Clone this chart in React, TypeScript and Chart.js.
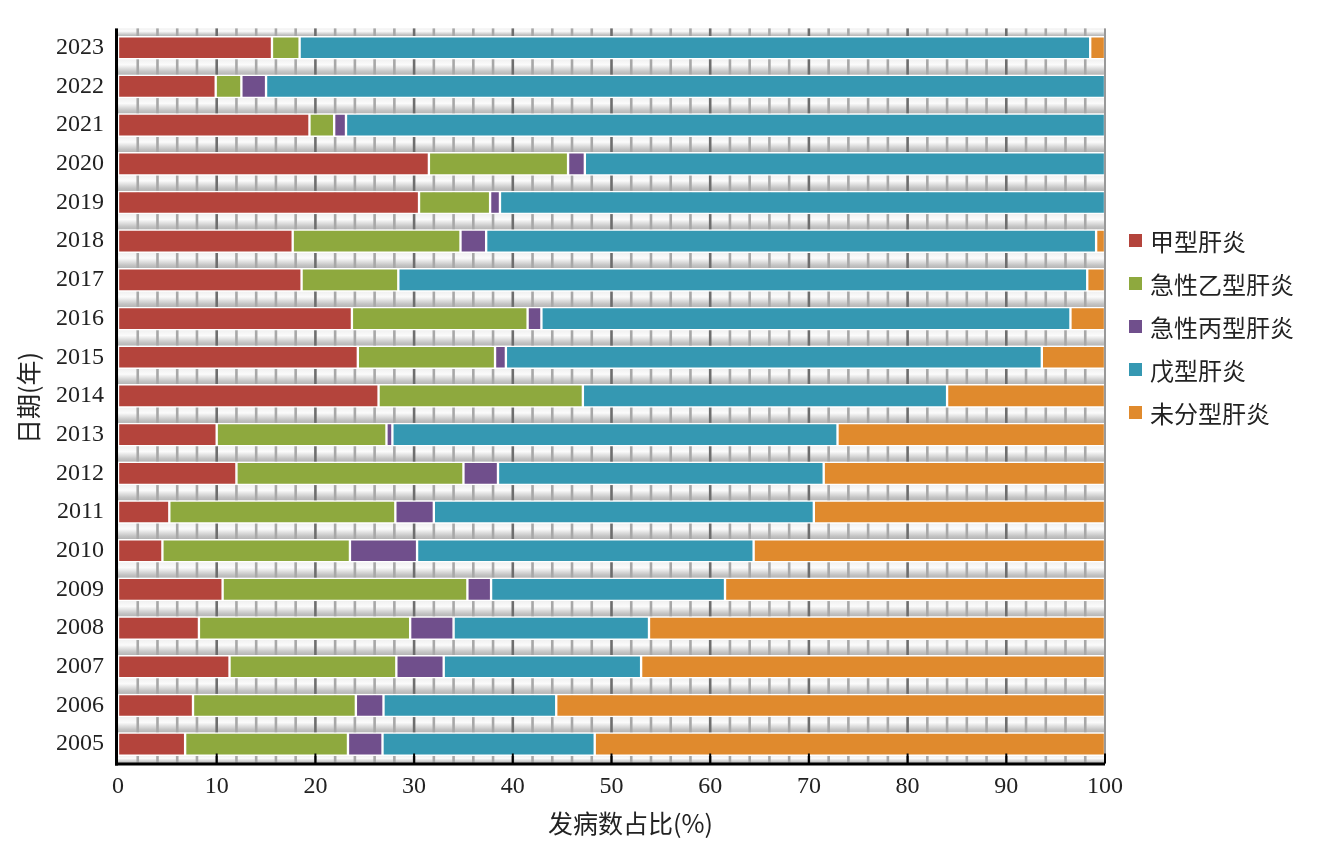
import React, { useEffect, useRef } from "react";
import { Chart, registerables } from "chart.js";

Chart.register(...registerables);

const YEARS = ["2005", "2006", "2007", "2008", "2009", "2010", "2011", "2012", "2013", "2014", "2015", "2016", "2017", "2018", "2019", "2020", "2021", "2022", "2023"];

const HEP_A = [6.8, 7.6, 11.3, 8.2, 10.6, 4.5, 5.2, 12.0, 10.0, 26.4, 24.3, 23.7, 18.6, 17.7, 30.5, 31.5, 19.4, 9.9, 15.6];
const HEP_B = [16.5, 16.5, 16.9, 21.4, 24.8, 19.0, 22.9, 23.0, 17.2, 20.7, 13.9, 17.8, 9.8, 17.0, 7.2, 14.1, 2.5, 2.6, 2.8];
const HEP_C = [3.5, 2.8, 4.8, 4.4, 2.4, 6.8, 3.9, 3.5, 0.6, 0, 1.1, 1.4, 0, 2.6, 1.0, 1.7, 1.2, 2.5, 0];
const HEP_E = [21.5, 17.5, 20.0, 19.8, 23.7, 34.1, 38.5, 33.0, 45.1, 36.9, 54.3, 53.6, 69.8, 61.8, 61.3, 52.7, 76.9, 85.0, 80.1];
const HEP_U = [51.7, 55.6, 47.0, 46.2, 38.5, 35.6, 29.5, 28.5, 27.1, 16.0, 6.4, 3.5, 1.8, 0.9, 0, 0, 0, 0, 1.5];

const SERIES_NAMES = ["甲型肝炎", "急性乙型肝炎", "急性丙型肝炎", "戊型肝炎", "未分型肝炎"];
const SERIES_COLORS = ["#B4443C", "#8EA93E", "#704F8C", "#3598B2", "#E08A2D"];
const X_TICKS_MAX = 100;
const X_TITLE = "发病数占比(%)";
const Y_TITLE = "日期(年)";

const FONT_FAMILY = "'Liberation Serif', 'Noto Sans CJK SC', serif";
const CJK_FONT = "'Noto Sans CJK SC', 'Liberation Serif', serif";
const BAR_THICK = 23;

const bgPlugin = {
  id: "bgStripes",
  beforeDatasetsDraw(chart: any) {
    const { ctx, chartArea: a, scales } = chart;
    const xs = scales.x;
    const ys = scales.y;
    const half = BAR_THICK / 2;
    const centers = YEARS.map((_, i) => ys.getPixelForValue(i)).sort((p: number, q: number) => p - q);
    ctx.save();
    const n = centers.length;
    for (let k = 0; k <= n; k++) {
      const top = k === 0 ? a.top : centers[k - 1] + half;
      const bot = k === n ? a.bottom : centers[k] - half;
      if (bot <= top) continue;
      const g = ctx.createLinearGradient(0, top, 0, bot);
      g.addColorStop(0, "#f0f0f0");
      g.addColorStop(0.35, "#fbfbfb");
      g.addColorStop(0.8, "#c4c4c4");
      g.addColorStop(1, "#b4b4b4");
      ctx.fillStyle = g;
      ctx.fillRect(a.left, top, a.right - a.left, bot - top);
    }
    for (let v = 2; v < 100; v += 2) {
      const px = xs.getPixelForValue(v);
      ctx.fillStyle = v % 10 === 0 ? "#6e6e6e" : "#a8a8a8";
      ctx.fillRect(px - 1.3, a.top, 2.6, a.bottom - a.top);
    }
    ctx.restore();
  },
  afterDatasetsDraw(chart: any) {
    const { ctx, chartArea: a, scales } = chart;
    const xs = scales.x;
    ctx.save();
    ctx.fillStyle = "#999999";
    ctx.fillRect(a.right - 1, a.top, 2, a.bottom - a.top);
    ctx.fillStyle = "#000000";
    for (let v = 10; v <= 100; v += 10) {
      const px = xs.getPixelForValue(v);
      ctx.fillRect(px - 1, a.bottom - 10, 2, 10);
    }
    ctx.fillRect(a.left - 3, a.top, 3, a.bottom - a.top + 2);
    ctx.fillRect(a.left - 3, a.bottom - 1, a.right - a.left + 3, 3);
    ctx.restore();
  },
  afterDraw(chart: any) {
    const { ctx, chartArea: a } = chart;
    ctx.save();
    ctx.fillStyle = "#222222";
    ctx.font = "25px " + CJK_FONT;
    ctx.textAlign = "center";
    ctx.textBaseline = "middle";
    ctx.fillText(X_TITLE, (a.left + a.right) / 2 + 19, 823);
    ctx.translate(28, (a.top + a.bottom) / 2 + 2);
    ctx.rotate(-Math.PI / 2);
    ctx.fillText(Y_TITLE, 0, 0);
    ctx.restore();
  },
};

export default function App() {
  const canvasRef = useRef<HTMLCanvasElement | null>(null);

  useEffect(() => {
    if (!canvasRef.current) return;
    const seriesData = [HEP_A, HEP_B, HEP_C, HEP_E, HEP_U];
    const chart = new Chart(canvasRef.current, {
      type: "bar",
      data: {
        labels: YEARS,
        datasets: SERIES_NAMES.map((name, i) => ({
          label: name,
          data: seriesData[i],
          backgroundColor: SERIES_COLORS[i],
          borderColor: "#ffffff",
          borderWidth: 1.5,
          borderSkipped: false,
          barThickness: BAR_THICK,
        })),
      },
      options: {
        indexAxis: "y",
        animation: false,
        responsive: true,
        maintainAspectRatio: false,
        layout: { padding: { top: 23.5, right: 216, left: 0, bottom: 0 } },
        plugins: {
          legend: { display: false },
          tooltip: { enabled: false },
        },
        scales: {
          x: {
            stacked: true,
            min: 0,
            max: X_TICKS_MAX,
            grid: { display: false, drawTicks: false },
            border: { display: false },
            ticks: {
              stepSize: 10,
              color: "#222222",
              padding: 9,
              maxRotation: 0,
              font: { family: FONT_FAMILY, size: 24 },
            },
            title: { display: false },
            afterFit(scale: any) {
              scale.height = 81.5;
            },
          },
          y: {
            stacked: true,
            reverse: true,
            grid: { display: false, drawTicks: false },
            border: { display: false },
            ticks: {
              color: "#222222",
              padding: 14,
              font: { family: FONT_FAMILY, size: 24 },
            },
            title: { display: false },
            afterFit(scale: any) {
              scale.width = 118;
            },
          },
        },
      },
      plugins: [bgPlugin],
    });
    return () => chart.destroy();
  }, []);

  return (
    <div style={{ position: "absolute", left: 0, top: 0, width: 1321, height: 845, background: "#ffffff" }}>
      <canvas ref={canvasRef} />
      <div style={{ position: "absolute", left: 1129, top: 218.5 }}>
        {SERIES_NAMES.map((name, i) => (
          <div key={name} style={{ display: "flex", alignItems: "center", height: 43 }}>
            <span style={{ display: "inline-block", width: 13, height: 13, background: SERIES_COLORS[i], marginRight: 8 }} />
            <span style={{ fontFamily: FONT_FAMILY, fontSize: 24, color: "#222222", whiteSpace: "nowrap" }}>{name}</span>
          </div>
        ))}
      </div>
    </div>
  );
}
